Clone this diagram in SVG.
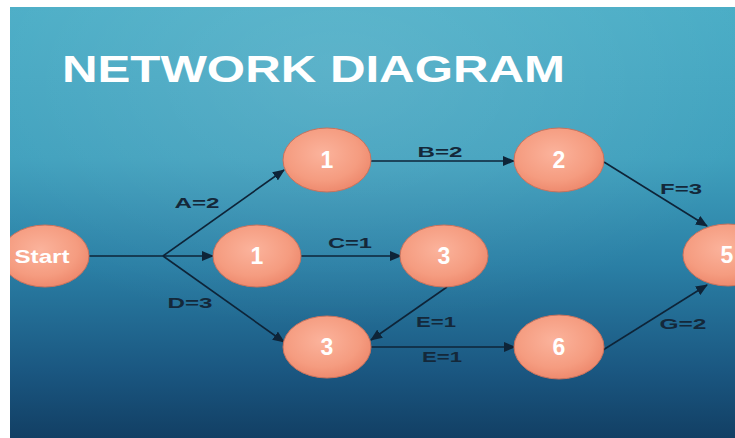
<svg xmlns="http://www.w3.org/2000/svg" width="735" height="438" viewBox="0 0 735 438">
<defs>
<linearGradient id="bg" x1="0" y1="0" x2="0" y2="1">
<stop offset="0" stop-color="#4aadc6"/>
<stop offset="0.35" stop-color="#3fa0bd"/>
<stop offset="0.6" stop-color="#2a7fa5"/>
<stop offset="0.85" stop-color="#1a5680"/>
<stop offset="1" stop-color="#123f64"/>
</linearGradient>
<radialGradient id="glow" cx="0.45" cy="0.15" r="0.6">
<stop offset="0" stop-color="#ffffff" stop-opacity="0.12"/>
<stop offset="1" stop-color="#ffffff" stop-opacity="0"/>
</radialGradient>
<radialGradient id="nodefill" cx="0.45" cy="0.4" r="0.6">
<stop offset="0" stop-color="#fbb39c"/>
<stop offset="0.7" stop-color="#f59c80"/>
<stop offset="1" stop-color="#ee8a6e"/>
</radialGradient>
<clipPath id="panel"><rect x="10" y="7" width="725" height="431"/></clipPath>
<marker id="arr" markerUnits="userSpaceOnUse" markerWidth="12" markerHeight="10" viewBox="0 0 12 10" refX="11" refY="5" orient="auto">
<path d="M0,0 L12,5 L0,10 Z" fill="#0e2438"/>
</marker>
</defs>
<style>
.node ellipse{fill:url(#nodefill);stroke:#c9725d;stroke-width:1}
.nt{font-family:"Liberation Sans",Arial,sans-serif;font-weight:bold;fill:#ffffff;text-anchor:middle}
.lbl{font-family:"Liberation Sans",Arial,sans-serif;font-weight:bold;fill:#14283a;font-size:14px;text-anchor:middle}
.edge{stroke:#0e2438;stroke-width:1.6;fill:none}
</style>
<rect x="0" y="0" width="735" height="438" fill="#ffffff"/>
<g clip-path="url(#panel)">
<rect x="10" y="7" width="725" height="431" fill="url(#bg)"/>
<rect x="10" y="7" width="725" height="431" fill="url(#glow)"/>
<text x="62" y="82" font-family="'Liberation Sans',Arial,sans-serif" font-weight="bold" font-size="37" fill="#ffffff" textLength="503" lengthAdjust="spacingAndGlyphs">NETWORK DIAGRAM</text>

<g id="connectors">
<line class="edge" x1="88" y1="256" x2="213" y2="256" marker-end="url(#arr)"/>
<line class="edge" x1="163" y1="256" x2="284" y2="170" marker-end="url(#arr)"/>
<line class="edge" x1="163" y1="256" x2="284" y2="342" marker-end="url(#arr)"/>
<line class="edge" x1="371" y1="161" x2="514" y2="161" marker-end="url(#arr)"/>
<line class="edge" x1="604" y1="162" x2="707" y2="226" marker-end="url(#arr)"/>
<line class="edge" x1="301" y1="256" x2="401" y2="256" marker-end="url(#arr)"/>
<line class="edge" x1="447" y1="287" x2="371" y2="340" marker-end="url(#arr)"/>
<line class="edge" x1="370" y1="347" x2="515" y2="347" marker-end="url(#arr)"/>
<line class="edge" x1="603" y1="350" x2="707" y2="285" marker-end="url(#arr)"/>
<text class="lbl" x="197" y="208" textLength="45" lengthAdjust="spacingAndGlyphs">A=2</text>
<text class="lbl" x="440" y="157" textLength="45" lengthAdjust="spacingAndGlyphs">B=2</text>
<text class="lbl" x="350" y="248" textLength="44" lengthAdjust="spacingAndGlyphs">C=1</text>
<text class="lbl" x="190" y="308" textLength="45" lengthAdjust="spacingAndGlyphs">D=3</text>
<text class="lbl" x="436" y="327" textLength="40" lengthAdjust="spacingAndGlyphs">E=1</text>
<text class="lbl" x="442" y="362" textLength="40" lengthAdjust="spacingAndGlyphs">E=1</text>
<text class="lbl" x="681" y="194" textLength="42" lengthAdjust="spacingAndGlyphs">F=3</text>
<text class="lbl" x="683" y="329" textLength="47" lengthAdjust="spacingAndGlyphs">G=2</text>
</g>

<g id="node-start" class="node">
<ellipse cx="45" cy="256" rx="44" ry="31"/>
<text class="nt" x="42" y="263" font-size="19" textLength="55" lengthAdjust="spacingAndGlyphs">Start</text>
</g>
<g id="node-1a" class="node">
<ellipse cx="327" cy="160" rx="44" ry="32"/>
<text class="nt" x="327" y="168" font-size="23">1</text>
</g>
<g id="node-1b" class="node">
<ellipse cx="257" cy="256" rx="44" ry="31"/>
<text class="nt" x="257" y="264" font-size="23">1</text>
</g>
<g id="node-2" class="node">
<ellipse cx="559" cy="160" rx="45" ry="32"/>
<text class="nt" x="559" y="168" font-size="23">2</text>
</g>
<g id="node-3a" class="node">
<ellipse cx="444" cy="256" rx="44" ry="31"/>
<text class="nt" x="444" y="264" font-size="23">3</text>
</g>
<g id="node-3b" class="node">
<ellipse cx="327" cy="347" rx="44" ry="31"/>
<text class="nt" x="327" y="355" font-size="23">3</text>
</g>
<g id="node-6" class="node">
<ellipse cx="559" cy="347" rx="45" ry="32"/>
<text class="nt" x="559" y="355" font-size="23">6</text>
</g>
<g id="node-5" class="node">
<ellipse cx="728" cy="255" rx="45" ry="31"/>
<text class="nt" x="727" y="263" font-size="23">5</text>
</g>
</g>
</svg>
